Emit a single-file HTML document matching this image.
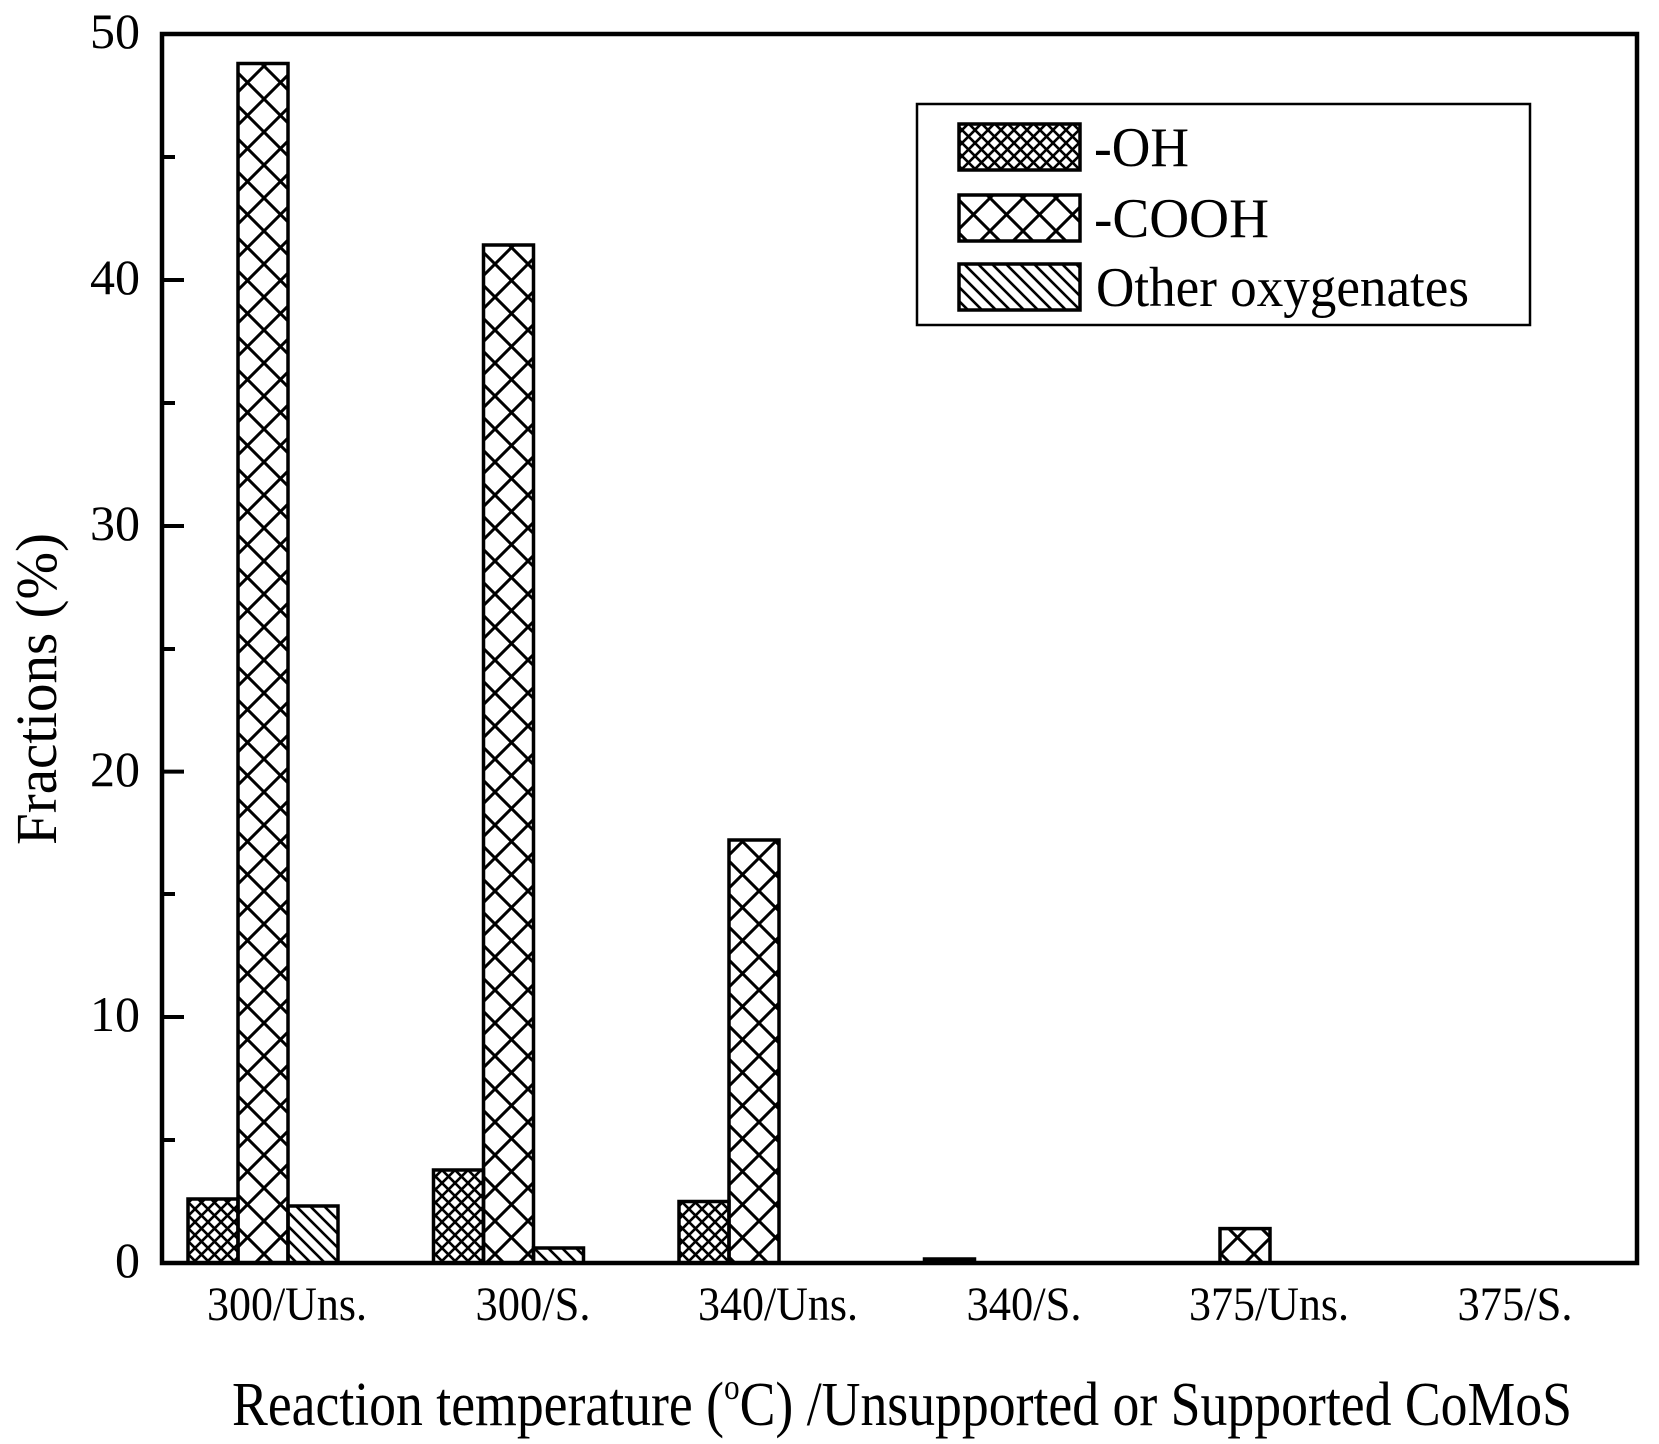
<!DOCTYPE html>
<html><head><style>body{margin:0;background:#fff}svg{display:block}</style></head><body>
<svg width="1659" height="1444" viewBox="0 0 1659 1444" xmlns="http://www.w3.org/2000/svg" font-family="'Liberation Serif', serif">
<defs>
<pattern id="pOH" patternUnits="userSpaceOnUse" width="13" height="13">
<path d="M0,0 L13,13 M13,0 L0,13 M-1,12 L1,14 M12,-1 L14,1" stroke="#000" stroke-width="2.6"/>
</pattern>
<pattern id="pCO" patternUnits="userSpaceOnUse" width="33" height="33">
<path d="M0,0 L33,33 M33,0 L0,33" stroke="#000" stroke-width="3"/>
</pattern>
<pattern id="pOT" patternUnits="userSpaceOnUse" width="14" height="14">
<path d="M0,0 L14,14 M-7,7 L7,21 M7,-7 L21,7" stroke="#000" stroke-width="2.6"/>
</pattern>
</defs>
<g stroke="#000" stroke-width="3.5">
<rect x="188" y="1199" width="50" height="64" fill="url(#pOH)"/>
<rect x="433.5" y="1170" width="50" height="93" fill="url(#pOH)"/>
<rect x="679" y="1201.5" width="50" height="61.5" fill="url(#pOH)"/>
<rect x="924.5" y="1259" width="50" height="4" fill="#000"/>
<rect x="238" y="63.5" width="50" height="1199.5" fill="url(#pCO)"/>
<rect x="483.5" y="245" width="50" height="1018" fill="url(#pCO)"/>
<rect x="729" y="840" width="50" height="423" fill="url(#pCO)"/>
<rect x="1220" y="1228.6" width="50" height="34.4" fill="url(#pCO)"/>
<rect x="288" y="1206" width="50" height="57" fill="url(#pOT)"/>
<rect x="533.5" y="1248" width="50" height="15" fill="url(#pOT)"/>
</g>
<rect x="162" y="34" width="1475" height="1229" fill="none" stroke="#000" stroke-width="4.5"/>
<g stroke="#000" stroke-width="4">
<line x1="162" y1="280" x2="184" y2="280"/>
<line x1="162" y1="526" x2="184" y2="526"/>
<line x1="162" y1="771.6" x2="184" y2="771.6"/>
<line x1="162" y1="1017" x2="184" y2="1017"/>
<line x1="162" y1="157" x2="175" y2="157"/>
<line x1="162" y1="403" x2="175" y2="403"/>
<line x1="162" y1="649" x2="175" y2="649"/>
<line x1="162" y1="894" x2="175" y2="894"/>
<line x1="162" y1="1140" x2="175" y2="1140"/>
</g>
<g font-size="50" text-anchor="end">
<text x="140" y="48">50</text>
<text x="140" y="294">40</text>
<text x="140" y="540">30</text>
<text x="140" y="786">20</text>
<text x="140" y="1031">10</text>
<text x="140" y="1277">0</text>
</g>
<g font-size="48" text-anchor="middle">
<text x="287" y="1320" textLength="160" lengthAdjust="spacingAndGlyphs">300/Uns.</text>
<text x="533" y="1320" textLength="115" lengthAdjust="spacingAndGlyphs">300/S.</text>
<text x="778" y="1320" textLength="160" lengthAdjust="spacingAndGlyphs">340/Uns.</text>
<text x="1024" y="1320" textLength="115" lengthAdjust="spacingAndGlyphs">340/S.</text>
<text x="1269" y="1320" textLength="160" lengthAdjust="spacingAndGlyphs">375/Uns.</text>
<text x="1515" y="1320" textLength="115" lengthAdjust="spacingAndGlyphs">375/S.</text>
</g>
<text x="232" y="1425" font-size="62" textLength="1340" lengthAdjust="spacingAndGlyphs">Reaction temperature (<tspan font-size="36" dy="-26">o</tspan><tspan dy="26">C) /Unsupported or Supported CoMoS</tspan></text>
<text transform="translate(56,689) rotate(-90)" font-size="58" text-anchor="middle" textLength="312" lengthAdjust="spacingAndGlyphs">Fractions (%)</text>
<rect x="917" y="104" width="613" height="221" fill="#fff" stroke="#000" stroke-width="2.5"/>
<g stroke="#000" stroke-width="3.5">
<rect x="959" y="124" width="121" height="46" fill="url(#pOH)"/>
<rect x="959" y="195" width="121" height="46" fill="url(#pCO)"/>
<rect x="959" y="264" width="121" height="46" fill="url(#pOT)"/>
</g>
<g font-size="56">
<text x="1094" y="166" textLength="95" lengthAdjust="spacingAndGlyphs">-OH</text>
<text x="1094" y="237" textLength="175" lengthAdjust="spacingAndGlyphs">-COOH</text>
<text x="1096" y="306" textLength="373" lengthAdjust="spacingAndGlyphs">Other oxygenates</text>
</g>
</svg>
</body></html>
